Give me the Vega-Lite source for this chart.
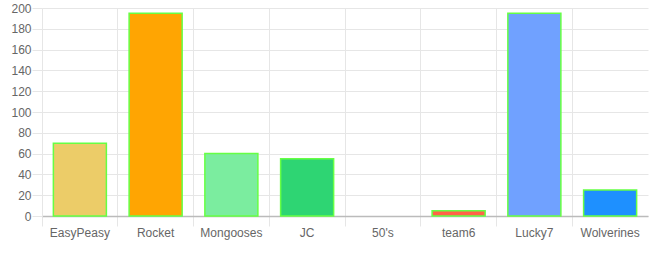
{
  "$schema": "https://vega.github.io/schema/vega-lite/v6.json",
  "autosize": "none",
  "width": 606,
  "height": 208,
  "padding": {"left": 42, "top": 8, "right": 24, "bottom": 40},
  "background": "white",
  "config": {
    "view": {"stroke": null},
    "font": "Liberation Sans"
  },
  "data": {
    "values": [
      {"team": "EasyPeasy", "points": 70, "color": "#eccc68"},
      {"team": "Rocket", "points": 195, "color": "#ffa502"},
      {"team": "Mongooses", "points": 60, "color": "#7bed9f"},
      {"team": "JC", "points": 55, "color": "#2ed573"},
      {"team": "50's", "points": 0, "color": "#ff4757"},
      {"team": "team6", "points": 5, "color": "#ff6348"},
      {"team": "Lucky7", "points": 195, "color": "#70a1ff"},
      {"team": "Wolverines", "points": 25, "color": "#1e90ff"}
    ]
  },
  "mark": {"type": "bar", "strokeWidth": 1.5, "width": {"band": 0.7}},
  "encoding": {
    "x": {
      "field": "team",
      "type": "nominal",
      "sort": null,
      "scale": {"paddingInner": 0, "paddingOuter": 0},
      "axis": {
        "title": null,
        "labelAngle": 0,
        "labelFontSize": 12,
        "labelColor": "#666",
        "labelPadding": 1,
        "bandPosition": 0,
        "grid": true,
        "gridColor": "#e6e6e6",
        "tickColor": "#e6e6e6",
        "tickSize": 10,
        "domainColor": "#bbbbbb",
        "domainWidth": 1.5
      }
    },
    "y": {
      "field": "points",
      "type": "quantitative",
      "scale": {"domain": [0, 200], "nice": false},
      "axis": {
        "title": null,
        "values": [0, 20, 40, 60, 80, 100, 120, 140, 160, 180, 200],
        "labelFontSize": 12,
        "labelColor": "#666",
        "labelPadding": 1,
        "grid": true,
        "gridColor": "#e6e6e6",
        "tickColor": "#e6e6e6",
        "tickSize": 10,
        "domainColor": "#e6e6e6"
      }
    },
    "fill": {"field": "color", "type": "nominal", "scale": null, "legend": null},
    "stroke": {"condition": {"test": "datum.points > 0", "value": "#66ff44"}, "value": "transparent"}
  }
}
